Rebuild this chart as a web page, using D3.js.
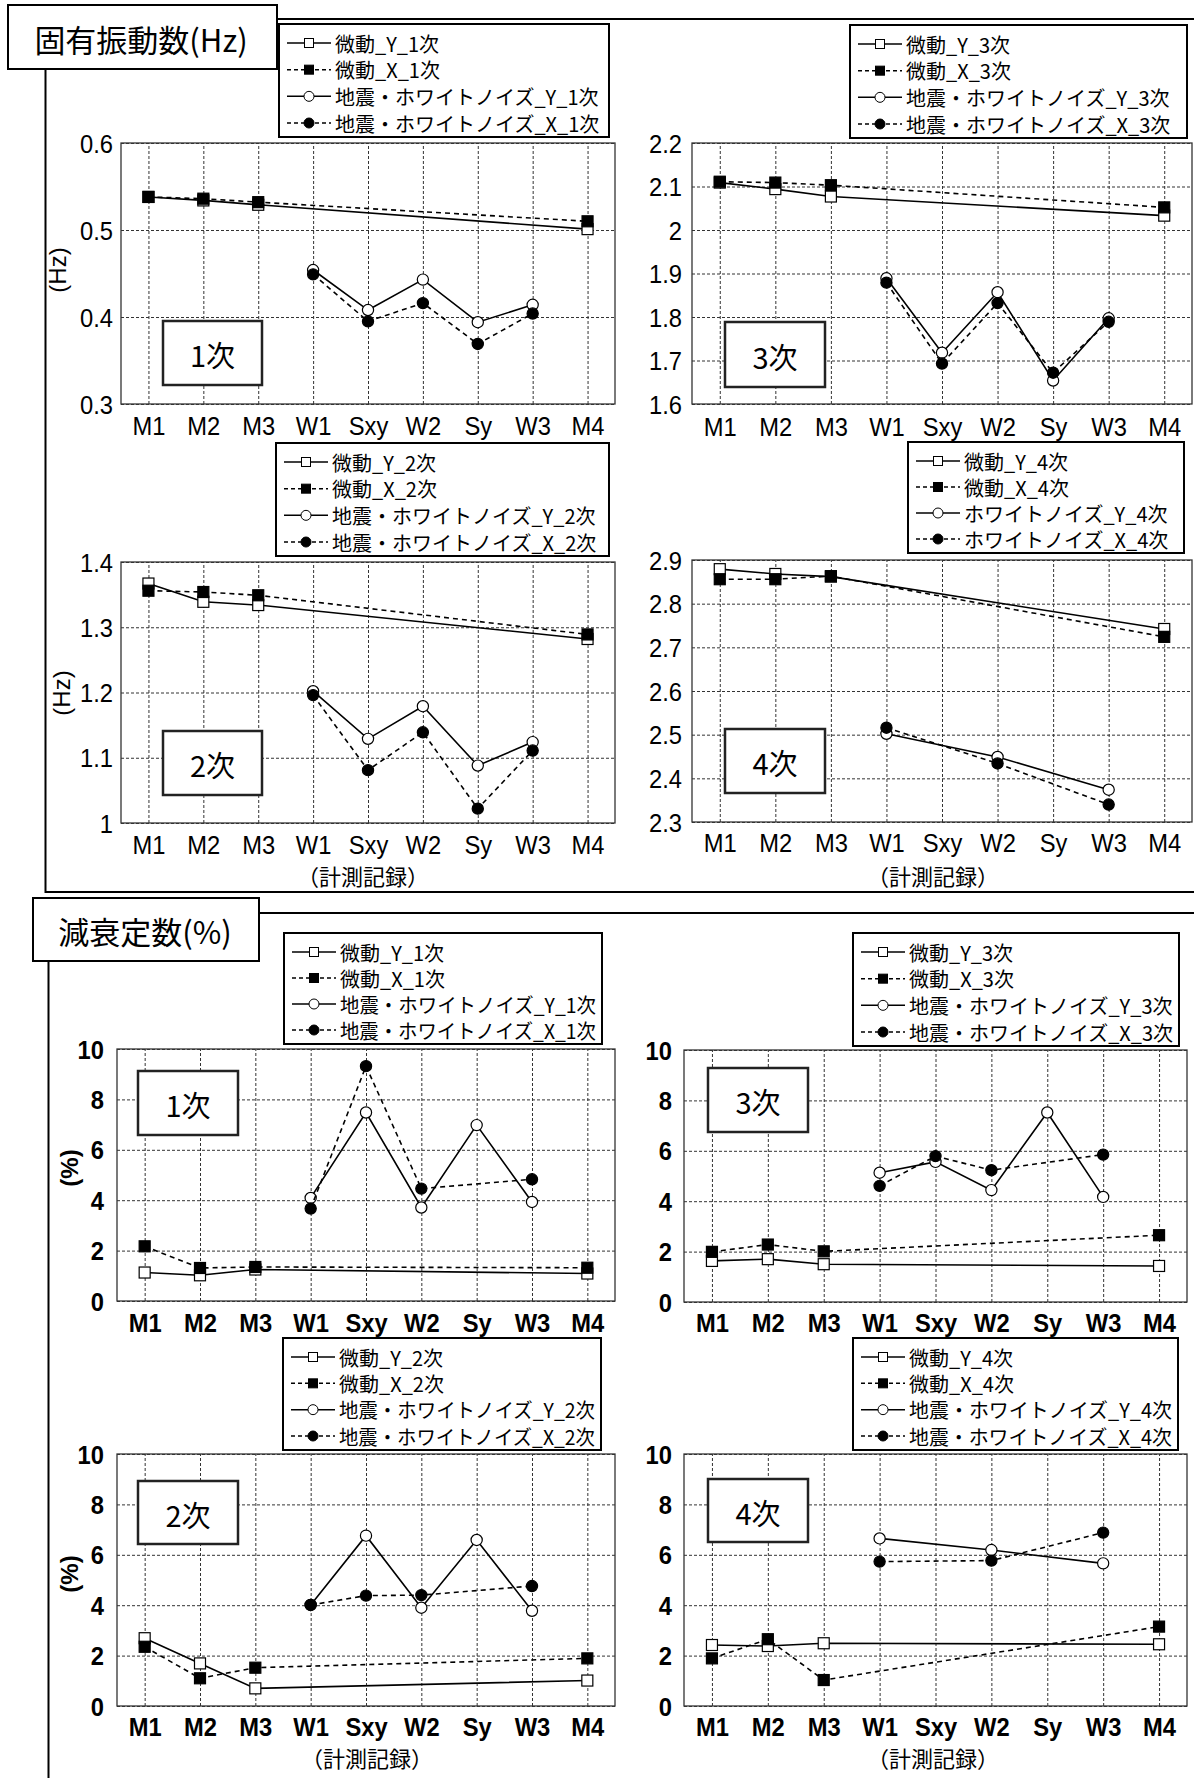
<!DOCTYPE html>
<html>
<head>
<meta charset="utf-8">
<script src="https://cdn.jsdelivr.net/npm/d3@7"></script>
<style>
body { margin: 0; background: #fff; }
svg { display: block; }
</style>
</head>
<body>
<script>
// categories (計測記録)
const categories = ["M1", "M2", "M3", "W1", "Sxy", "W2", "Sy", "W3", "M4"];

// 固有振動数 (Hz)
const freq1MY = [0.538, 0.534, 0.529, null, null, null, null, null, 0.501];
const freq1MX = [0.538, 0.536, 0.532, null, null, null, null, null, 0.510];
const freq1EY = [null, null, null, 0.454, 0.408, 0.443, 0.394, 0.414, null];
const freq1EX = [null, null, null, 0.449, 0.395, 0.416, 0.369, 0.404, null];

const freq2MY = [1.367, 1.339, 1.334, null, null, null, null, null, 1.282];
const freq2MX = [1.356, 1.354, 1.349, null, null, null, null, null, 1.289];
const freq2EY = [null, null, null, 1.202, 1.129, 1.179, 1.088, 1.124, null];
const freq2EX = [null, null, null, 1.196, 1.081, 1.139, 1.022, 1.111, null];

const freq3MY = [2.109, 2.094, 2.077, null, null, null, null, null, 2.033];
const freq3MX = [2.111, 2.109, 2.103, null, null, null, null, null, 2.052];
const freq3EY = [null, null, null, 1.889, 1.718, 1.857, 1.654, 1.797, null];
const freq3EX = [null, null, null, 1.879, 1.693, 1.832, 1.672, 1.789, null];

const freq4MY = [2.879, 2.868, 2.862, null, null, null, null, null, 2.742];
const freq4MX = [2.856, 2.856, 2.863, null, null, null, null, null, 2.724];
const freq4EY = [null, null, null, 2.502, null, 2.449, null, 2.374, null];
const freq4EX = [null, null, null, 2.516, null, 2.434, null, 2.340, null];

// 減衰定数 (%)
const damp1MY = [1.13, 1.02, 1.25, null, null, null, null, null, 1.09];
const damp1MX = [2.17, 1.31, 1.35, null, null, null, null, null, 1.32];
const damp1EY = [null, null, null, 4.09, 7.48, 3.71, 6.98, 3.93, null];
const damp1EX = [null, null, null, 3.67, 9.32, 4.46, null, 4.83, null];

const damp2MY = [2.69, 1.69, 0.70, null, null, null, null, null, 1.01];
const damp2MX = [2.35, 1.10, 1.52, null, null, null, null, null, 1.89];
const damp2EY = [null, null, null, 4.01, 6.76, 3.90, 6.59, 3.78, null];
const damp2EX = [null, null, null, 4.01, 4.38, 4.40, null, 4.76, null];

const damp3MY = [1.63, 1.70, 1.50, null, null, null, null, null, 1.43];
const damp3MX = [1.99, 2.28, 2.01, null, null, null, null, null, 2.65];
const damp3EY = [null, null, null, 5.13, 5.56, 4.44, 7.52, 4.17, null];
const damp3EX = [null, null, null, 4.61, 5.79, 5.23, null, 5.85, null];

const damp4MY = [2.42, 2.38, 2.49, null, null, null, null, null, 2.45];
const damp4MX = [1.89, 2.65, 1.03, null, null, null, null, null, 3.15];
const damp4EY = [null, null, null, 6.65, null, 6.19, null, 5.66, null];
const damp4EX = [null, null, null, 5.73, null, 5.77, null, 6.88, null];

// tick values
const freq1Ticks = [0.3, 0.4, 0.5, 0.6];
const freq2Ticks = [1.0, 1.1, 1.2, 1.3, 1.4];
const freq3Ticks = [1.6, 1.7, 1.8, 1.9, 2.0, 2.1, 2.2];
const freq4Ticks = [2.3, 2.4, 2.5, 2.6, 2.7, 2.8, 2.9];
const dampTicks = [0, 2, 4, 6, 8, 10];

// legend labels
const legend1 = ["微動_Y_1次", "微動_X_1次", "地震・ホワイトノイズ_Y_1次", "地震・ホワイトノイズ_X_1次"];
const legend2 = ["微動_Y_2次", "微動_X_2次", "地震・ホワイトノイズ_Y_2次", "地震・ホワイトノイズ_X_2次"];
const legend3 = ["微動_Y_3次", "微動_X_3次", "地震・ホワイトノイズ_Y_3次", "地震・ホワイトノイズ_X_3次"];
const legend4f = ["微動_Y_4次", "微動_X_4次", "ホワイトノイズ_Y_4次", "ホワイトノイズ_X_4次"];
const legend4 = ["微動_Y_4次", "微動_X_4次", "地震・ホワイトノイズ_Y_4次", "地震・ホワイトノイズ_X_4次"];

const latin = "'Liberation Sans', Arial, sans-serif";
const cjk = "'Noto Sans CJK JP', 'Noto Sans', sans-serif";
const SX = 0.95;

const svg = d3.select("body").append("svg").attr("width", 1194).attr("height", 1778);

// section frames
svg.append("path")
   .attr("d", "M277,19 H1200 M45.5,69 V892 H1200")
   .attr("fill", "none").attr("stroke", "#000").attr("stroke-width", 2);
svg.append("path")
   .attr("d", "M259,913 H1200 M48.5,961 V1790")
   .attr("fill", "none").attr("stroke", "#000").attr("stroke-width", 2);

const styles = [
        {dash: null, marker: "square", fill: "#fff"},
        {dash: "5,4", marker: "square", fill: "#000"},
        {dash: null, marker: "circle", fill: "#fff"},
        {dash: "5,4", marker: "circle", fill: "#000"}
];

function fmt(v) {
        return String(+v.toFixed(1));
}

function drawMarker(g, style, cx, cy) {
        if (style.marker === "square") {
                g.append("rect")
                 .attr("x", cx - 5.5).attr("y", cy - 5.5).attr("width", 11).attr("height", 11)
                 .attr("fill", style.fill).attr("stroke", "#000").attr("stroke-width", 1.2);
        } else {
                g.append("circle")
                 .attr("cx", cx).attr("cy", cy).attr("r", 5.6)
                 .attr("fill", style.fill).attr("stroke", "#000").attr("stroke-width", 1.2);
        }
}

function drawChart(c) {
        const g = svg.append("g");
        const w = c.right - c.left;
        const h = c.bottom - c.top;
        const x = d3.scalePoint().domain(categories).range([c.left, c.right]).padding(0.5);
        const y = d3.scaleLinear().domain(c.domain).range([c.bottom, c.top]);

        g.append("rect")
         .attr("x", c.left).attr("y", c.top).attr("width", w).attr("height", h)
         .attr("fill", "#fff").attr("stroke", "#333").attr("stroke-width", 1.3);

        // grid
        g.append("g").attr("transform", `translate(${c.left},0)`)
         .call(d3.axisLeft(y).tickValues(c.ticks).tickSize(-w).tickFormat(""))
         .call(a => a.select(".domain").remove())
         .call(a => a.selectAll("line").attr("stroke", "#333").attr("stroke-dasharray", "3,2"));
        g.append("g").attr("transform", `translate(0,${c.bottom})`)
         .call(d3.axisBottom(x).tickSize(-h).tickFormat(""))
         .call(a => a.select(".domain").remove())
         .call(a => a.selectAll("line").attr("stroke", "#333").attr("stroke-dasharray", "3,2"));

        // y tick labels
        const ya = g.append("g").attr("transform", `translate(${c.left},0)`)
                    .call(d3.axisLeft(y).tickValues(c.ticks).tickSize(0).tickFormat(fmt));
        ya.select(".domain").remove();
        ya.selectAll("text")
          .attr("x", 0).attr("dy", "0.36em")
          .attr("transform", `translate(${-c.gap},0) scale(${SX},1)`)
          .style("font-family", latin).style("font-size", "25px")
          .style("font-weight", c.bold ? "bold" : "normal").attr("fill", "#000");

        // category labels
        const xa = g.append("g").attr("transform", `translate(0,${c.bottom})`)
                    .call(d3.axisBottom(x).tickSize(0));
        xa.select(".domain").remove();
        xa.selectAll("text")
          .attr("y", 0).attr("dy", "0.36em")
          .attr("transform", `translate(0,${c.labelY - c.bottom}) scale(${SX},1)`)
          .style("font-family", latin).style("font-size", "25px")
          .style("font-weight", c.bold ? "bold" : "normal").attr("fill", "#000");

        // series
        c.series.forEach((vals, i) => {
                const st = styles[i];
                const pts = categories.map((k, j) => ({k: k, v: vals[j]})).filter(d => d.v !== null);
                const line = d3.line().x(d => x(d.k)).y(d => y(d.v));
                g.append("path").attr("d", line(pts))
                 .attr("fill", "none").attr("stroke", "#000").attr("stroke-width", 1.6)
                 .attr("stroke-dasharray", st.dash);
                pts.forEach(d => drawMarker(g, st, x(d.k), y(d.v)));
        });

        // axis titles
        if (c.ytitle) {
                g.append("text")
                 .attr("transform", `translate(${c.ytitle[0]},${c.ytitle[1]}) rotate(-90)`)
                 .attr("text-anchor", "middle").attr("dominant-baseline", "central")
                 .style("font-family", latin).style("font-size", "24px")
                 .style("font-weight", c.bold ? "bold" : "normal")
                 .text(c.ytitleText);
        }
        if (c.xtitle) {
                g.append("text")
                 .attr("x", c.xtitle[0]).attr("y", c.xtitle[1])
                 .attr("text-anchor", "middle").attr("dominant-baseline", "central")
                 .style("font-family", cjk).style("font-size", "22px")
                 .text("（計測記録）");
        }

        // order box
        const ob = c.order;
        g.append("rect")
         .attr("x", ob[0]).attr("y", ob[1]).attr("width", ob[2]).attr("height", ob[3])
         .attr("fill", "#fff").attr("stroke", "#222").attr("stroke-width", 2.5);
        g.append("text")
         .attr("x", ob[0] + ob[2] / 2).attr("y", ob[1] + ob[3] / 2 + 1)
         .attr("text-anchor", "middle").attr("dominant-baseline", "central")
         .style("font-family", cjk).style("font-size", "29px")
         .text(c.orderText);

        // legend
        const lg = c.legend;
        const lgG = svg.append("g");
        lgG.append("rect")
           .attr("x", lg[0]).attr("y", lg[1]).attr("width", lg[2]).attr("height", lg[3])
           .attr("fill", "#fff").attr("stroke", "#000").attr("stroke-width", 2);
        const step = (lg[3] - 33) / 3;
        const avail = lg[2] - 56 - 6;
        c.names.forEach((name, i) => {
                const st = styles[i];
                const cy = lg[1] + 19 + i * step;
                lgG.append("line")
                   .attr("x1", lg[0] + 8).attr("x2", lg[0] + 52).attr("y1", cy).attr("y2", cy)
                   .attr("stroke", "#000").attr("stroke-width", 1.5)
                   .attr("stroke-dasharray", st.dash ? "4,3" : null);
                const ms = st.marker === "square" ? 4.5 : 5;
                if (st.marker === "square") {
                        lgG.append("rect").attr("x", lg[0] + 30 - ms).attr("y", cy - ms)
                           .attr("width", ms * 2).attr("height", ms * 2)
                           .attr("fill", st.fill).attr("stroke", "#000").attr("stroke-width", 1);
                } else {
                        lgG.append("circle").attr("cx", lg[0] + 30).attr("cy", cy).attr("r", ms)
                           .attr("fill", st.fill).attr("stroke", "#000").attr("stroke-width", 1);
                }
                const t = lgG.append("text")
                   .attr("x", lg[0] + 56).attr("y", cy)
                   .attr("dominant-baseline", "central")
                   .style("font-family", cjk).style("font-size", "20px")
                   .text(name);
                if (t.node().getComputedTextLength() > avail) {
                        t.attr("textLength", avail).attr("lengthAdjust", "spacingAndGlyphs");
                }
        });
}

const charts = [
        {left: 121, right: 615, top: 143, bottom: 404, domain: [0.3, 0.6], ticks: freq1Ticks,
         series: [freq1MY, freq1MX, freq1EY, freq1EX], names: legend1, labelY: 426, gap: 8,
         legend: [279, 24, 330, 113], order: [163, 321, 99, 64], orderText: "1次",
         ytitle: [57, 270], ytitleText: "(Hz)"},
        {left: 692, right: 1192, top: 143, bottom: 404, domain: [1.6, 2.2], ticks: freq3Ticks,
         series: [freq3MY, freq3MX, freq3EY, freq3EX], names: legend3, labelY: 427, gap: 10,
         legend: [850, 25, 337, 113], order: [725, 322, 100, 65], orderText: "3次"},
        {left: 121, right: 615, top: 562, bottom: 823, domain: [1.0, 1.4], ticks: freq2Ticks,
         series: [freq2MY, freq2MX, freq2EY, freq2EX], names: legend2, labelY: 845, gap: 8,
         legend: [276, 443, 333, 113], order: [163, 731, 99, 64], orderText: "2次",
         ytitle: [61, 693], ytitleText: "(Hz)", xtitle: [363, 875]},
        {left: 692, right: 1192, top: 560, bottom: 822, domain: [2.3, 2.9], ticks: freq4Ticks,
         series: [freq4MY, freq4MX, freq4EY, freq4EX], names: legend4f, labelY: 843, gap: 10,
         legend: [908, 442, 276, 111], order: [725, 729, 100, 64], orderText: "4次",
         xtitle: [933, 875]},
        {left: 117, right: 615, top: 1049, bottom: 1301, domain: [0, 10], ticks: dampTicks,
         series: [damp1MY, damp1MX, damp1EY, damp1EX], names: legend1, labelY: 1323, gap: 13, bold: true,
         legend: [284, 933, 318, 111], order: [138, 1071, 100, 64], orderText: "1次",
         ytitle: [69, 1168], ytitleText: "(%)"},
        {left: 684, right: 1187, top: 1050, bottom: 1302, domain: [0, 10], ticks: dampTicks,
         series: [damp3MY, damp3MX, damp3EY, damp3EX], names: legend3, labelY: 1323, gap: 12, bold: true,
         legend: [853, 933, 326, 113], order: [708, 1068, 100, 64], orderText: "3次"},
        {left: 117, right: 615, top: 1454, bottom: 1706, domain: [0, 10], ticks: dampTicks,
         series: [damp2MY, damp2MX, damp2EY, damp2EX], names: legend2, labelY: 1727, gap: 13, bold: true,
         legend: [283, 1338, 318, 112], order: [138, 1481, 100, 63], orderText: "2次",
         ytitle: [69, 1574], ytitleText: "(%)", xtitle: [367, 1757]},
        {left: 684, right: 1187, top: 1454, bottom: 1706, domain: [0, 10], ticks: dampTicks,
         series: [damp4MY, damp4MX, damp4EY, damp4EX], names: legend4, labelY: 1727, gap: 12, bold: true,
         legend: [853, 1338, 325, 112], order: [708, 1479, 100, 63], orderText: "4次",
         xtitle: [933, 1757]}
];

charts.forEach(drawChart);

// section title boxes
function titleBox(x, y, w, h, label, cx) {
        svg.append("rect").attr("x", x).attr("y", y).attr("width", w).attr("height", h)
           .attr("fill", "#fff").attr("stroke", "#000").attr("stroke-width", 2);
        svg.append("text").attr("x", cx).attr("y", y + h / 2 + 1)
           .attr("text-anchor", "middle").attr("dominant-baseline", "central")
           .style("font-family", cjk).style("font-size", "31px")
           .text(label);
}
titleBox(8, 5, 269, 64, "固有振動数(Hz)", 141);
titleBox(33, 898, 226, 63, "減衰定数(%)", 145);
</script>
</body>
</html>
